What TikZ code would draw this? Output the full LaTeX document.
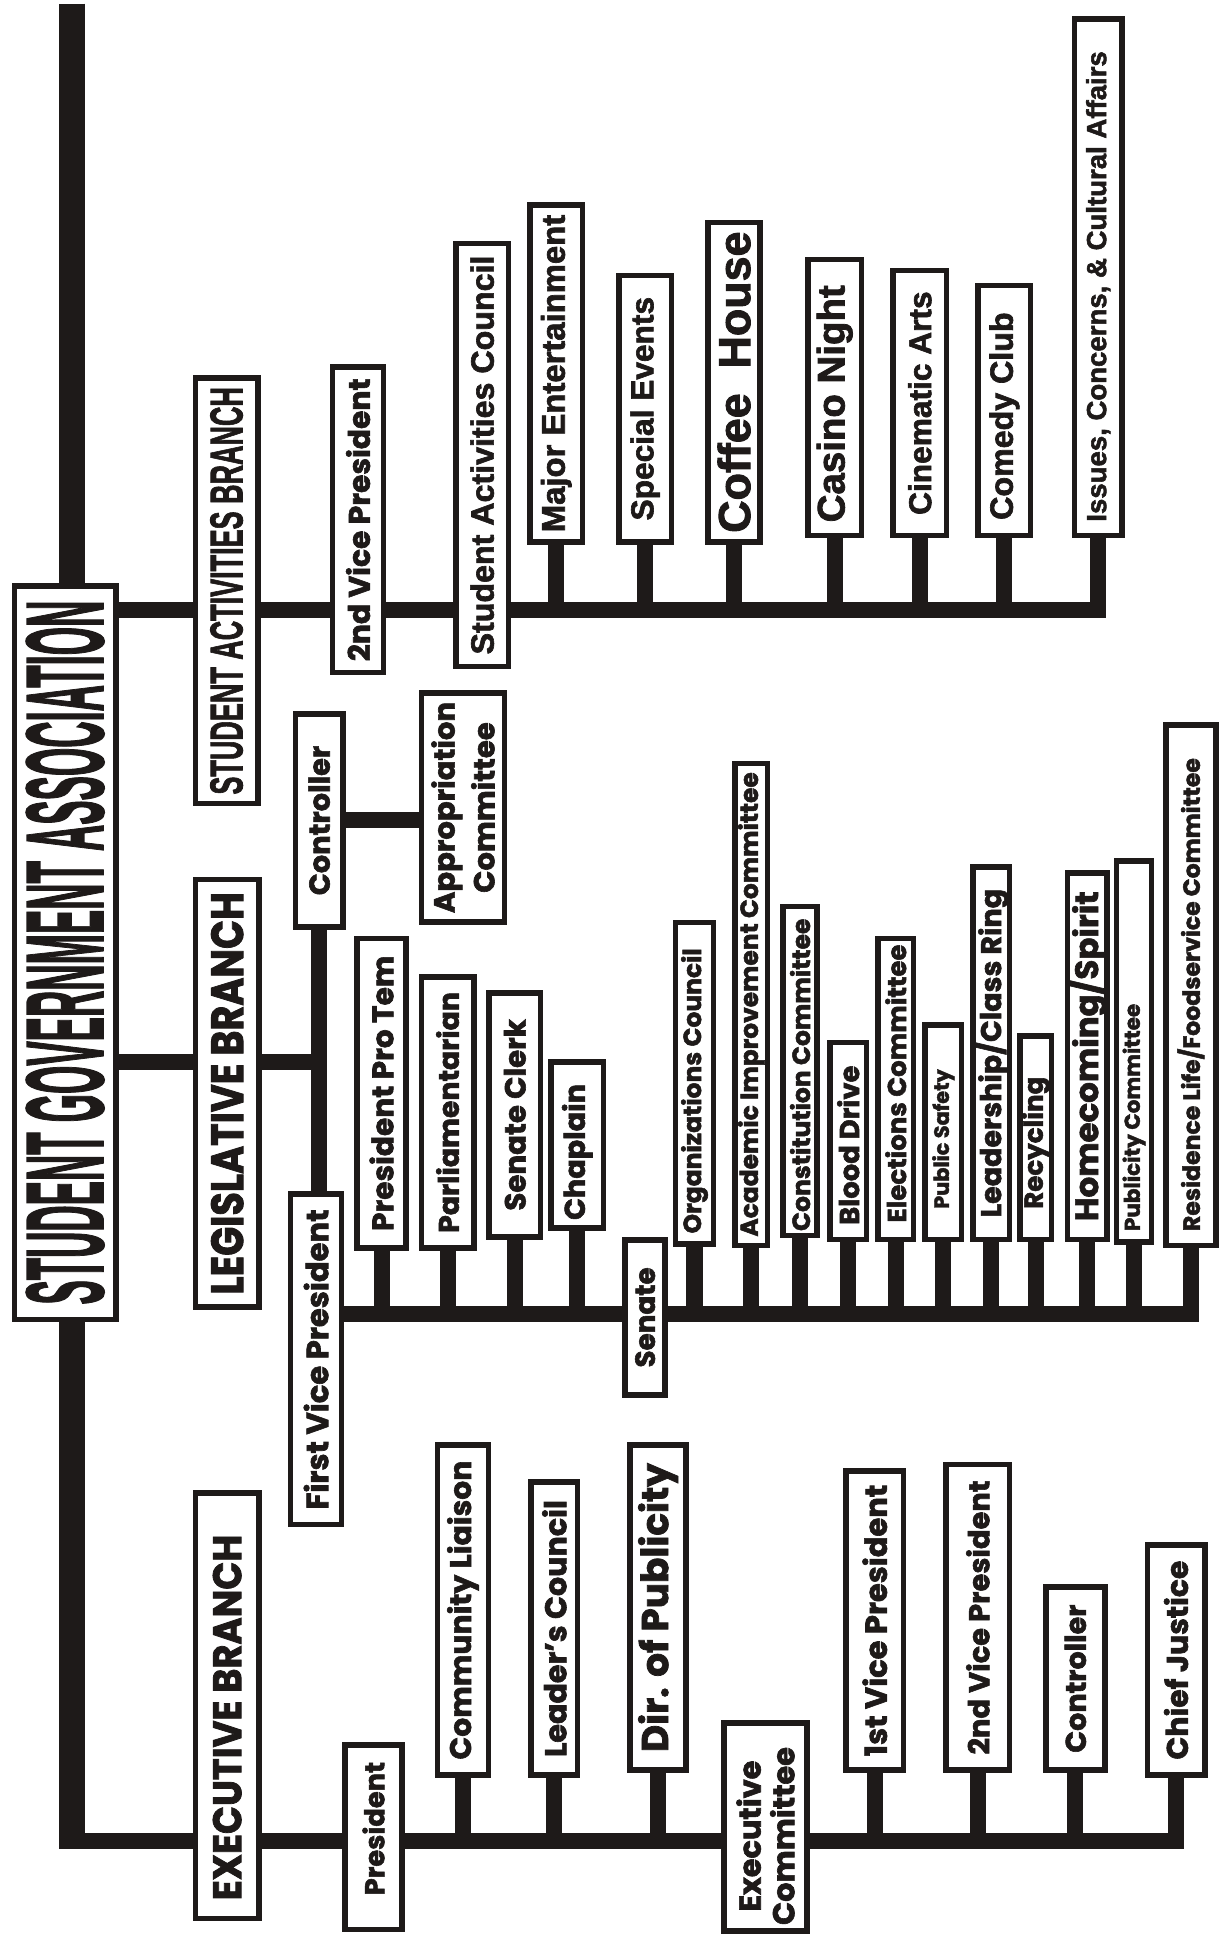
\documentclass[tikz,border=0pt]{standalone}
\usepackage{fontspec}
\setmainfont{Poppins}[BoldFeatures={FakeBold=2}]
\newfontfamily\grotesk{Liberation Sans}[BoldFeatures={FakeBold=2}]
\usepackage{graphicx}
\usetikzlibrary{backgrounds}
\definecolor{ChartInk}{HTML}{1E1A19}

% rotated label, scaled to a given length (optional shift towards the bottom)
\newcommand{\vlabel}[3][0pt]{\rotatebox{90}{\resizebox{#2}{!}{#3}\hspace*{#1}}}
\newcommand{\vcaps}[4][0pt]{\rotatebox{90}{\resizebox{#2}{#3}{#4}\hspace*{#1}}}

\begin{document}
\begin{tikzpicture}[x=1pt, y=-1pt,
    box/.style={draw=ChartInk, line width=4.5pt, fill=white, text=ChartInk,
                inner sep=0pt, font=\bfseries},
    wh/.style 2 args={minimum width=#1, minimum height=#2},
    conn/.style={draw=ChartInk, line width=13pt, line join=miter},
    spine/.style={draw=ChartInk, line width=21pt}]
\useasboundingbox (0,0) rectangle (996,1568);

% Head and branches
\node[box, wh={82pt}{594pt}] (sga) at (52.75,771.5)
    {\vcaps{570pt}{62pt}{\grotesk STUDENT GOVERNMENT ASSOCIATION}};
\node[box, wh={50.5pt}{344.5pt}] (sabranch) at (183.5,478.5)
    {\vcaps{330pt}{26pt}{\grotesk STUDENT ACTIVITIES BRANCH}};
\node[box, wh={51.5pt}{346.5pt}] (legbranch) at (184,885.5)
    {\vcaps{326pt}{26pt}{LEGISLATIVE BRANCH}};
\node[box, wh={51.5pt}{344.5pt}] (exbranch) at (184,1381.5)
    {\vcaps[19pt]{296pt}{23pt}{EXECUTIVE BRANCH}};

% Student activities branch
\node[box, wh={41.5pt}{247.5pt}] (savp) at (290,421) {\vlabel{229pt}{2nd Vice President}};
\node[box, wh={42.5pt}{342.5pt}] (sac) at (390.5,368.5) {\vlabel{323pt}{\grotesk Student Activities Council}};
\node[box, wh={42.5pt}{272.5pt}] (majent) at (450.5,302.5) {\vlabel{257pt}{\grotesk Major Entertainment}};
\node[box, wh={42.5pt}{215.5pt}] (special) at (522.5,331) {\vlabel{181pt}{\grotesk Special Events}};
\node[box, wh={42.5pt}{258.5pt}] (coffee) at (594.5,309.5) {\vlabel{244pt}{\grotesk Coffee\ \ House}};
\node[box, wh={43.5pt}{223.5pt}] (casino) at (676,322) {\vlabel[10pt]{192pt}{\grotesk Casino Night}};
\node[box, wh={43.5pt}{214.5pt}] (cinema) at (745,326.5) {\vlabel{181pt}{\grotesk Cinematic Arts}};
\node[box, wh={42.5pt}{202.5pt}] (comedy) at (813.5,332.5) {\vlabel[9pt]{168pt}{\grotesk Comedy Club}};
\node[box, wh={38.5pt}{418.5pt}] (issues) at (889.5,224.5) {\vlabel[15pt]{381pt}{\grotesk Issues, Concerns, \& Cultural Affairs}};

% Legislative branch
\node[box, wh={38.5pt}{172.5pt}] (controller) at (258.5,664.5) {\vlabel{121pt}{Controller}};
\node[box, wh={67.5pt}{185.5pt}] (approp) at (375,654) {\vlabel{171pt}{\shortstack{Appropriation\\Committee}}};
\node[box, wh={41.5pt}{267.5pt}] (firstvp) at (256,1101) {\vlabel{243pt}{First Vice President}};
\node[box, wh={39.5pt}{250.5pt}] (protem) at (309,885.5) {\vlabel{223pt}{President Pro Tem}};
\node[box, wh={42.5pt}{219.5pt}] (parl) at (362.5,901) {\vlabel{195pt}{Parliamentarian}};
\node[box, wh={41.5pt}{197.5pt}] (clerk) at (417,903) {\vlabel{155pt}{Senate Clerk}};
\node[box, wh={42.5pt}{134.5pt}] (chaplain) at (467.5,927.5) {\vlabel[11pt]{110pt}{Chaplain}};
\node[box, wh={32.5pt}{125.5pt}] (senate) at (522.5,1067) {\vlabel{81pt}{Senate}};
\node[box, wh={30.5pt}{260.5pt}] (orgc) at (562.5,877.5) {\vlabel[12pt]{231pt}{Organizations Council}};
\node[box, wh={26.5pt}{390.5pt}] (acad) at (608.5,813.5) {\vlabel{376pt}{Academic Improvement Committee}};
\node[box, wh={27.5pt}{266.5pt}] (const) at (648,867.5) {\vlabel[6pt]{253pt}{Constitution Committee}};
\node[box, wh={29.5pt}{159.5pt}] (blood) at (687,924) {\vlabel[7pt]{129pt}{Blood Drive}};
\node[box, wh={28.5pt}{243.5pt}] (elect) at (725.5,882) {\vlabel[-9pt]{225pt}{Elections Committee}};
\node[box, wh={29.5pt}{173.5pt}] (safety) at (764,917) {\vlabel[11pt]{113pt}{Public Safety}};
\node[box, wh={29.5pt}{301.5pt}] (lead) at (803,853) {\vlabel{266pt}{Leadership/Class Ring}};
\node[box, wh={25.5pt}{164.5pt}] (recyc) at (839,921.5) {\vlabel[8pt]{107pt}{Recycling}};
\node[box, wh={28.5pt}{296.5pt}] (homec) at (880.5,855.5) {\vlabel{267pt}{Homecoming/Spirit}};
\node[box, wh={28.5pt}{308.5pt}] (public) at (918.5,851.5) {\vlabel[107pt]{184pt}{Publicity Committee}};
\node[box, wh={40.5pt}{421.5pt}] (reslife) at (964.5,798) {\vlabel[15pt]{383pt}{Residence Life/Foodservice Committee}};

% Executive branch
\node[box, wh={46.5pt}{149.5pt}] (president) at (302.5,1488) {\vlabel[-14pt]{108pt}{President}};
\node[box, wh={41.5pt}{267.5pt}] (liaison) at (375,1304) {\vlabel{242pt}{Community Liaison}};
\node[box, wh={37.5pt}{237.5pt}] (leaders) at (449,1319) {\vlabel{208pt}{Leader's Council}};
\node[box, wh={45.5pt}{263.5pt}] (dirpub) at (533,1302) {\vlabel{234pt}{Dir. of Publicity}};
\node[box, wh={67.5pt}{168.5pt}] (execcom) at (620,1479.5) {\vlabel[15pt]{144pt}{\shortstack{Executive\\Committee}}};
\node[box, wh={46.5pt}{242.5pt}] (vp1) at (708.5,1312.5) {\vlabel{220pt}{1st Vice President}};
\node[box, wh={51.5pt}{247.5pt}] (vp2) at (792,1310) {\vlabel{222pt}{2nd Vice President}};
\node[box, wh={47.5pt}{148.5pt}] (ctrl2) at (871,1359.5) {\vlabel{120pt}{Controller}};
\node[box, wh={46.5pt}{186.5pt}] (chief) at (952.5,1344.5) {\vlabel{161pt}{Chief Justice}};

% Connectors (behind the boxes)
\coordinate (spinetop) at (58.5,3);
\coordinate (spinebot) at (58.5,1491);
\coordinate (sarow) at (0,494);
\coordinate (legrow) at (0,860);
\coordinate (senrow) at (0,1064);
\begin{pgfonlayer}{background}
  \draw[spine] (spinetop) -- (spinetop |- sga.north);
  \draw[spine] (spinebot |- sga.south) -- ([yshift=-6.5pt]spinebot);
  % student activities row
  \draw[conn] (sga.east |- sarow) -| (issues.south);
  \foreach \b in {majent,special,coffee,casino,cinema,comedy}
    \draw[conn] (\b.south) -- (\b.south |- sarow);
  % legislative row
  \draw[conn] (sga.east |- legrow) -- (controller.south |- legrow);
  \draw[conn] (controller.south) -- (controller.south |- firstvp.north);
  \draw[conn] (controller.east) -- (controller.east -| approp.west);
  \draw[conn] (firstvp.east |- senrow) -| (reslife.south);
  \foreach \b in {protem,parl,clerk,chaplain,orgc,acad,const,blood,elect,safety,lead,recyc,homec,public}
    \draw[conn] (\b.south) -- (\b.south |- senrow);
  % executive row
  \draw[conn] (spinebot) -| (chief.south);
  \foreach \b in {liaison,leaders,dirpub,vp1,vp2,ctrl2}
    \draw[conn] (\b.south) -- (\b.south |- spinebot);
\end{pgfonlayer}
\end{tikzpicture}
\end{document}
